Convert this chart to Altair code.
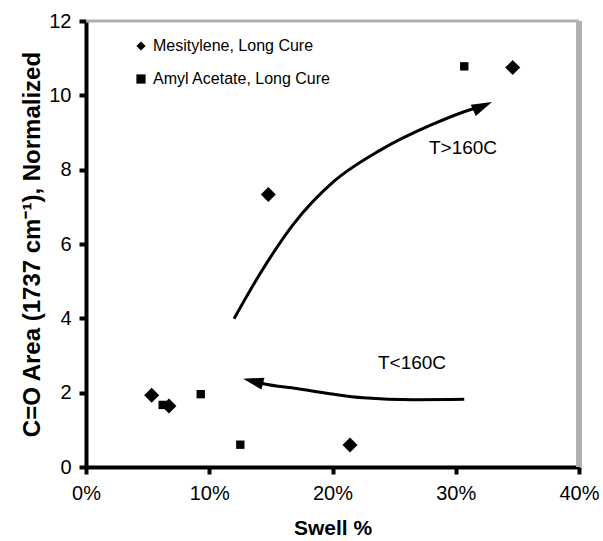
import altair as alt
import pandas as pd

# Measured points (swell as a fraction, C=O area normalized)
mes_swell = [0.0533, 0.0673, 0.1479, 0.2142, 0.3462]
mes_area = [1.93, 1.64, 7.33, 0.59, 10.75]
amyl_swell = [0.0622, 0.0931, 0.1252, 0.3069]
amyl_area = [1.67, 1.96, 0.60, 10.78]
series_names = ["Mesitylene, Long Cure", "Amyl Acetate, Long Cure"]

# Guide arrows: trend above and below 160C
hi_swell = [0.1201, 0.1412, 0.1682, 0.2006, 0.2385, 0.2791, 0.3142, 0.3218]
hi_area = [3.99, 5.20, 6.53, 7.67, 8.52, 9.19, 9.64, 9.71]
lo_swell = [0.3069, 0.2656, 0.2250, 0.1980, 0.1710, 0.1439, 0.1355]
lo_area = [1.82, 1.81, 1.86, 1.97, 2.11, 2.24, 2.31]
head_angles = [66, 284]

note_text = ["T>160C", "T<160C"]
note_swell = [0.3059, 0.2645]
note_area = [8.58, 2.79]

FONT = "Liberation Sans"

points = pd.DataFrame({
    "swell": mes_swell + amyl_swell,
    "area": mes_area + amyl_area,
    "series": [series_names[0]] * len(mes_swell) + [series_names[1]] * len(amyl_swell),
})

arrows = pd.DataFrame({
    "swell": hi_swell + lo_swell,
    "area": hi_area + lo_area,
    "arrow": ["hi"] * len(hi_swell) + ["lo"] * len(lo_swell),
    "order": list(range(len(hi_swell))) + list(range(len(lo_swell))),
})
heads = pd.DataFrame({
    "swell": [hi_swell[-1], lo_swell[-1]],
    "area": [hi_area[-1], lo_area[-1]],
    "angle": head_angles,
})
notes = pd.DataFrame({"text": note_text, "swell": note_swell, "area": note_area})

x_scale = alt.Scale(domain=[0, 0.4], nice=False)
y_scale = alt.Scale(domain=[0, 12], nice=False)

x_axis = alt.Axis(
    title="Swell %", format=".0%", values=[0, 0.1, 0.2, 0.3, 0.4], grid=False,
    labelFlush=False,
    domainColor="black", domainWidth=4, tickColor="black", tickWidth=4, tickSize=7,
    labelFont=FONT, labelFontSize=20, labelColor="black", labelPadding=9,
    titleFont=FONT, titleFontSize=21, titleFontWeight="bold", titleColor="black",
    titlePadding=14,
)
y_axis = alt.Axis(
    title="C=O Area (1737 cm⁻¹), Normalized", values=[0, 2, 4, 6, 8, 10, 12], grid=False,
    labelFlush=False,
    domainColor="black", domainWidth=4, tickColor="black", tickWidth=4, tickSize=7,
    labelFont=FONT, labelFontSize=20, labelColor="black", labelPadding=8,
    titleFont=FONT, titleFontSize=24, titleFontWeight="bold", titleColor="black",
    titlePadding=4,
)

X = alt.X("swell:Q", scale=x_scale, axis=x_axis)
Y = alt.Y("area:Q", scale=y_scale, axis=y_axis)

# Grey frame on the top and right edges
top_edge = alt.Chart().mark_rule(color="#b0b0b0", strokeWidth=3).encode(
    x=alt.datum(0, scale=x_scale), x2=alt.datum(0.4), y=alt.datum(12, scale=y_scale)
)
right_edge = alt.Chart().mark_rule(color="#b0b0b0", strokeWidth=6).encode(
    x=alt.datum(0.4, scale=x_scale), y=alt.datum(0, scale=y_scale), y2=alt.datum(12)
)

legend = alt.Legend(
    title=None, orient="none", legendX=47, legendY=17,
    labelFont=FONT, labelFontSize=16, labelColor="black", labelOffset=4,
    labelLimit=400,
    symbolSize=85, symbolFillColor="black", symbolStrokeColor="black",
    rowPadding=17,
)
shape_enc = alt.Shape(
    "series:N",
    scale=alt.Scale(domain=series_names, range=["diamond", "square"]),
    legend=legend,
)

# Diamonds are drawn larger than squares
mes_layer = alt.Chart(points).transform_filter(
    alt.datum.series == series_names[0]
).mark_point(filled=True, opacity=1, color="black", size=225).encode(x=X, y=Y, shape=shape_enc)
amyl_layer = alt.Chart(points).transform_filter(
    alt.datum.series == series_names[1]
).mark_point(filled=True, opacity=1, color="black", size=70).encode(x=X, y=Y, shape=shape_enc)

curves = alt.Chart(arrows).mark_line(
    color="black", strokeWidth=3, interpolate="monotone"
).encode(x=X, y=Y, detail="arrow:N", order="order:Q")

tips = alt.Chart(heads).mark_point(
    shape="M0,-1L0.6,1L-0.6,1Z", filled=True, opacity=1, color="black", size=420
).encode(x=X, y=Y, angle=alt.Angle("angle:Q", scale=None))

labels = alt.Chart(notes).mark_text(
    font=FONT, fontSize=19, color="black", align="center", baseline="middle"
).encode(x=X, y=Y, text="text:N")

chart = alt.layer(
    top_edge, right_edge, curves, tips, mes_layer, amyl_layer, labels
).properties(
    width=493, height=446,
    padding={"left": 86, "top": 21, "right": 24, "bottom": 74},
    autosize=alt.AutoSizeParams(type="none"),
    background="white",
).configure_view(stroke=None)

chart.save("out.html", embed_options={"renderer": "svg", "actions": False})
